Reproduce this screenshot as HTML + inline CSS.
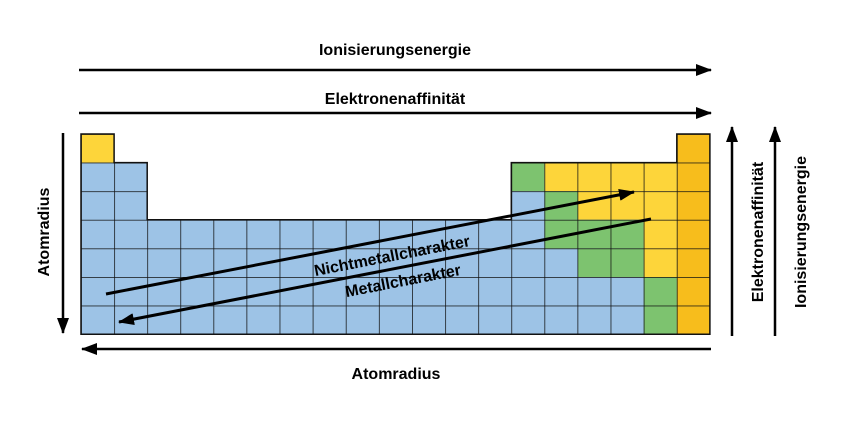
<!DOCTYPE html>
<html><head><meta charset="utf-8"><style>body{margin:0;background:#fff}svg{display:block}</style></head><body>
<svg width="850" height="422" viewBox="0 0 850 422" xmlns="http://www.w3.org/2000/svg" font-family="Liberation Sans, sans-serif" font-weight="bold">
<defs>
<marker id="b" markerWidth="16" markerHeight="12" refX="15" refY="6" orient="auto" markerUnits="userSpaceOnUse"><path d="M0,0 L16,6 L0,12 z" fill="#000"/></marker>
<pattern id="p" patternUnits="userSpaceOnUse" x="81" y="134" width="33.1" height="28.6"><path d="M0,0 H33.1 M0,0 V28.6" stroke="#111" stroke-width="1.5" fill="none"/></pattern>
</defs>
<polygon points="81,134 114.1,134 114.1,162.6 147.2,162.6 147.2,219.8 511.3,219.8 511.3,162.6 676.8,162.6 676.8,134 709.9,134 709.9,334.2 81,334.2" fill="#9dc3e6"/>
<g>
<rect x="81" y="134" width="33.1" height="28.6" fill="#fdd53a"/>
<rect x="676.8" y="134" width="33.1" height="200.2" fill="#f7bd1c"/>
<rect x="511.3" y="162.6" width="33.1" height="28.6" fill="#7dc36f"/>
<rect x="544.4" y="162.6" width="132.4" height="28.6" fill="#fdd53a"/>
<rect x="544.4" y="191.2" width="33.1" height="28.6" fill="#7dc36f"/>
<rect x="577.5" y="191.2" width="99.3" height="28.6" fill="#fdd53a"/>
<rect x="544.4" y="219.8" width="99.3" height="28.6" fill="#7dc36f"/>
<rect x="643.7" y="219.8" width="33.1" height="57.2" fill="#fdd53a"/>
<rect x="577.5" y="248.4" width="66.2" height="28.6" fill="#7dc36f"/>
<rect x="643.7" y="277" width="33.1" height="57.2" fill="#7dc36f"/>
</g>
<polygon points="81,134 114.1,134 114.1,162.6 147.2,162.6 147.2,219.8 511.3,219.8 511.3,162.6 676.8,162.6 676.8,134 709.9,134 709.9,334.2 81,334.2" fill="url(#p)" stroke="#111" stroke-width="1.5"/>
<g stroke="#000" stroke-width="2.5" fill="none">
<line x1="79" y1="70" x2="711" y2="70" marker-end="url(#b)"/>
<line x1="79" y1="113" x2="711" y2="113" marker-end="url(#b)"/>
<line x1="711" y1="349" x2="82" y2="349" marker-end="url(#b)"/>
<line x1="63" y1="133" x2="63" y2="333" marker-end="url(#b)"/>
<line x1="732" y1="336" x2="732" y2="127" marker-end="url(#b)"/>
<line x1="775" y1="336" x2="775" y2="127" marker-end="url(#b)"/>
<line x1="106" y1="294" x2="634" y2="192" stroke-width="3" marker-end="url(#b)"/>
<line x1="651" y1="219" x2="119" y2="322" stroke-width="3" marker-end="url(#b)"/>
</g>
<g font-size="16" text-anchor="middle" fill="#000">
<text x="395" y="55">Ionisierungsenergie</text>
<text x="395" y="104">Elektronenaffinität</text>
<text x="396" y="379">Atomradius</text>
<text transform="translate(49,232) rotate(-90)">Atomradius</text>
<text transform="translate(763,232) rotate(-90)">Elektronenaffinität</text>
<text transform="translate(806,232) rotate(-90)">Ionisierungsenergie</text>
<text transform="translate(393,261) rotate(-11)">Nichtmetallcharakter</text>
<text transform="translate(404,286) rotate(-11)">Metallcharakter</text>
</g>
</svg>
</body></html>
